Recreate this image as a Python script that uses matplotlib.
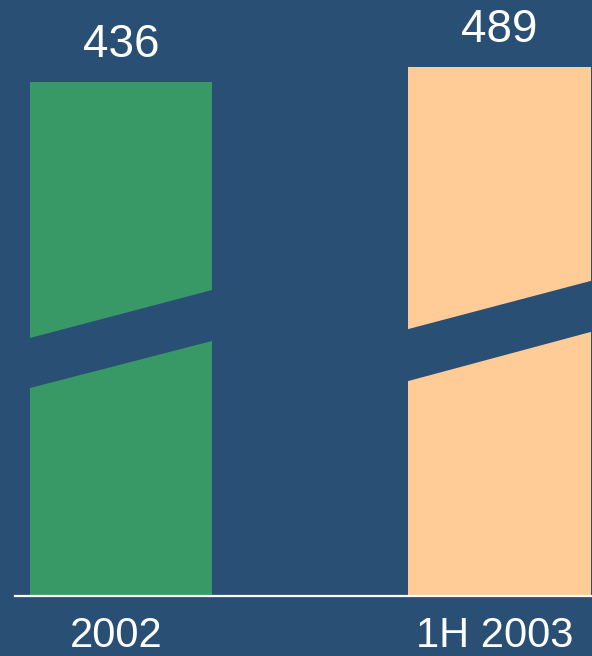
import matplotlib.pyplot as plt
from matplotlib.patches import Polygon

plt.rcParams['font.family'] = ['Liberation Sans', 'DejaVu Sans']

categories = ["2002", "1H 2003"]
values = [436, 489]
colors = ["#389966", "#FFCB97"]
bg = "#294F74"

# broken axis: bars are not drawn from zero, the visible scale starts at BASE
PX_PER_UNIT = 15 / 53
BASE = values[0] - 514 / PX_PER_UNIT

fig = plt.figure(figsize=(5.92, 6.56), dpi=100)
fig.patch.set_facecolor(bg)
ax = fig.add_axes([0, 0, 1, 1])
ax.set_facecolor(bg)

x = [0, 1]
width = 0.481
ax.bar(x, [v - BASE for v in values], bottom=BASE, width=width, color=colors)

ax.set_xlim(-0.3197, 1.2444)
ylo = BASE - 60 / PX_PER_UNIT
ax.set_ylim(ylo, ylo + 656 / PX_PER_UNIT)
ax.axis("off")


def py(px):
    # pixels above the baseline -> data units
    return BASE + px / PX_PER_UNIT


# diagonal break bands
bands = [(207, 256, 257, 307), (214, 265, 266, 316)]
for xi, (lo_l, lo_r, up_l, up_r) in zip(x, bands):
    x0, x1 = xi - width / 2 - 0.01, xi + width / 2 + 0.01
    ax.add_patch(Polygon([(x0, py(lo_l)), (x1, py(lo_r)), (x1, py(up_r)), (x0, py(up_l))],
                         closed=True, facecolor=bg, edgecolor="none", zorder=3))

# baseline
ax.plot([-0.28, 1.2444], [BASE, BASE], color="white", lw=1.6, zorder=4)

for xi, v in zip(x, values):
    ax.text(xi, v + 15 / PX_PER_UNIT, str(v), ha="center", va="bottom",
            color="white", fontsize=33)

for xi, c in zip(x, categories):
    ax.text(xi - 0.012, py(-40), c, ha="center", va="center", color="white", fontsize=30)

fig.savefig("out.png", dpi=100, facecolor=bg)
